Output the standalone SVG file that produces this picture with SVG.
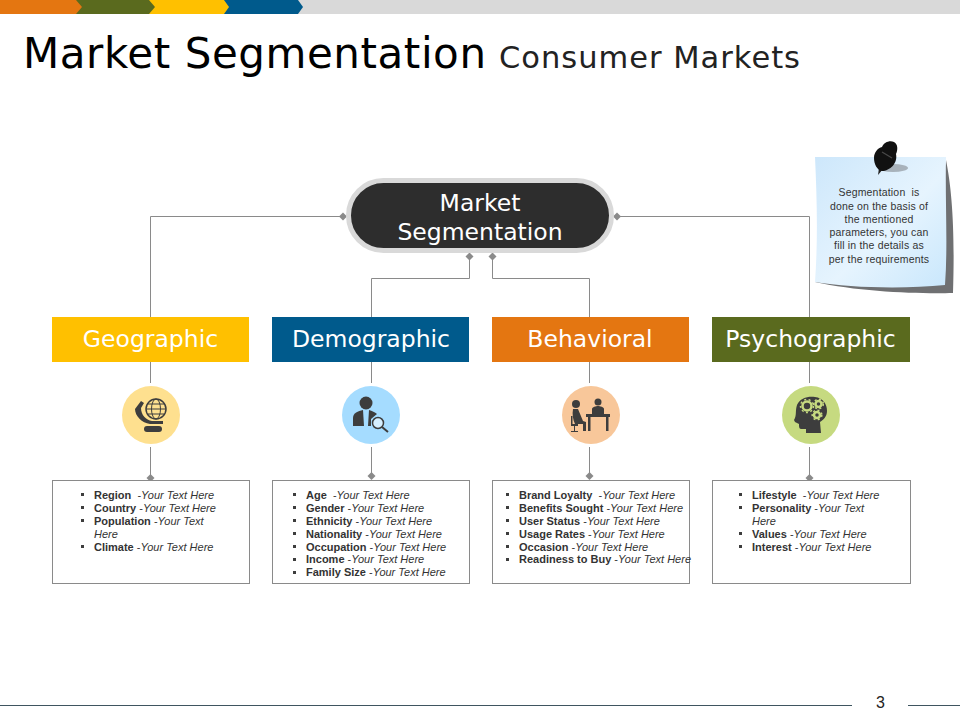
<svg xmlns="http://www.w3.org/2000/svg" width="960" height="720" viewBox="0 0 960 720">
<defs>
<style>
.h{font-family:"DejaVu Sans",Verdana,sans-serif}
.w{fill:#fff;text-anchor:middle}
.c{fill:none;stroke:#8a8a8a;stroke-width:1}
.box{fill:#fff;stroke:#8a8a8a;stroke-width:1}
.l{font-family:"Liberation Sans",Arial,sans-serif;font-size:11px;fill:#333;white-space:pre}
.l tspan.b{font-weight:bold}
.l tspan.i{font-style:italic}
.n{font-family:"Liberation Sans",Arial,sans-serif;font-size:10.500px;letter-spacing:.18px;fill:#333;text-anchor:middle;white-space:pre}
.ic{fill:#3d3d3d}
</style>
<linearGradient id="note" x1="0" y1="0" x2="1" y2="1"><stop offset="0" stop-color="#cde7fb"/><stop offset="0.55" stop-color="#e6f4fe"/><stop offset="1" stop-color="#c9e7fc"/></linearGradient>
<marker id="dm" markerWidth="9" markerHeight="9" refX="4.500" refY="4.500" markerUnits="userSpaceOnUse"><path d="M4.500 0.500L8.500 4.500L4.500 8.500L0.500 4.500Z" fill="#8a8a8a"/></marker>
</defs>
<rect width="960" height="720" fill="#fff"/>
<g id="topbar">
<rect x="0" y="0" width="960" height="14" fill="#d9d9d9"/>
<path d="M222 0H298L303 7L298 14H222Z" fill="#005a8c"/>
<path d="M148 0H224L229 7L224 14H148Z" fill="#ffc000"/>
<path d="M75 0H149L155 7L149 14H75Z" fill="#5a6a1e"/>
<path d="M0 0H76L82 7L76 14H0Z" fill="#e47611"/>
</g>
<g id="title">
<text class="h" x="23" y="68" font-size="42" fill="#000" textLength="463" lengthAdjust="spacing">Market Segmentation</text>
<text class="h" x="499" y="68" font-size="30.500" fill="#222" textLength="301" lengthAdjust="spacing">Consumer Markets</text>
</g>
<g id="connectors">
<path class="c" d="M343 216.500H150.500V317" marker-start="url(#dm)"/>
<path class="c" d="M617 216.500H809.500V317" marker-start="url(#dm)"/>
<path class="c" d="M469.500 256.500V278.500H371.500V317" marker-start="url(#dm)"/>
<path class="c" d="M492.500 256.500V278.500H589.500V317" marker-start="url(#dm)"/>
<path class="c" d="M150.500 362V383"/><path class="c" d="M371.500 362V383"/><path class="c" d="M589.500 362V383"/><path class="c" d="M809.500 362V383"/>
<path class="c" d="M150.500 447V478" marker-end="url(#dm)"/>
<path class="c" d="M371.500 447V476" marker-end="url(#dm)"/>
<path class="c" d="M589.500 447V476" marker-end="url(#dm)"/>
<path class="c" d="M809.500 447V478" marker-end="url(#dm)"/>
</g>
<g id="root">
<rect x="348.500" y="180.500" width="263" height="70" rx="35" fill="#2d2d2d" stroke="#d9d9d9" stroke-width="5"/>
<text class="h w" x="480" y="211" font-size="23.500">Market</text>
<text class="h w" x="480" y="240" font-size="23.500">Segmentation</text>
</g>
<g id="note-card">
<path d="M815 282C860 292 920 294 953 293C955 230 952 190 946 160L930 270Z" fill="#6f7072"/>
<path d="M815 157H946C945 200 948 245 945 285C905 289 850 288 815 282C818 240 817 200 815 157Z" fill="url(#note)"/>
<ellipse cx="893" cy="168" rx="15" ry="4" fill="#9aa3aa" opacity="0.8"/>
<path d="M879 168L878 175L883 169Z" fill="#222"/>
<path d="M874 158C874 152 878 148 882 147C884 142 890 140 894 142C898 144 898 150 896 154C898 163 890 171 882 171C877 170 874 164 874 158Z" fill="#111"/>
<path d="M882 152L892 158" stroke="#4a4a4a" stroke-width="1.200"/>
<text class="n" x="879" y="196">Segmentation  is</text>
<text class="n" x="879" y="210">done on the basis of</text>
<text class="n" x="879" y="223">the mentioned</text>
<text class="n" x="879" y="236">parameters, you can</text>
<text class="n" x="879" y="249">fill in the details as</text>
<text class="n" x="879" y="263">per the requirements</text>
</g>
<g id="geographic">
<rect x="52" y="317" width="197" height="45" fill="#ffc000"/>
<text class="h w" x="150.500" y="346.500" font-size="23.500">Geographic</text>
<circle cx="151" cy="415" r="29" fill="#fee08f"/>
<g class="ic">
<circle cx="156" cy="409" r="10" fill="none" stroke="#3d3d3d" stroke-width="1.500"/>
<ellipse cx="156" cy="409" rx="4.500" ry="10" fill="none" stroke="#3d3d3d" stroke-width="1"/>
<path d="M146 409H166M147.500 404H164.500M147.500 414H164.500" stroke="#3d3d3d" stroke-width="1"/>
<path d="M141 401L144 403L141 408C141 415 146 420 152 421L163 421V424H150C142 423 135 416 135 409Z"/>
<rect x="144" y="426" width="18" height="6" rx="3"/>
</g>
</g>
<g id="demographic">
<rect x="272" y="317" width="197" height="45" fill="#005a8c"/>
<text class="h w" x="371" y="346.500" font-size="23.500">Demographic</text>
<circle cx="371" cy="415" r="29" fill="#a5dcff"/>
<g class="ic">
<circle cx="366" cy="403" r="6.500"/>
<path d="M353 426V418C353 413 358 411 363 410L364 426Z"/>
<path d="M369 410C372 411 375 412 377 414L371 419V426H368Z"/>
<circle cx="378" cy="423" r="5.500" fill="#d5efff" stroke="#3d3d3d" stroke-width="1.500"/>
<path d="M382 427L388 432" stroke="#3d3d3d" stroke-width="2"/>
</g>
</g>
<g id="behavioral">
<rect x="492" y="317" width="197" height="45" fill="#e47611"/>
<text class="h w" x="590" y="346.500" font-size="23.500">Behavioral</text>
<circle cx="591" cy="415" r="29" fill="#f8c79a"/>
<g class="ic">
<circle cx="576" cy="404" r="4"/>
<path d="M573 409H578L583 421L586 422V431H583V424H575C573 420 572 414 573 409Z"/>
<path d="M571 416H572.500V424H578V426H575V431H578V432H571V431H574V426H571Z"/>
<circle cx="598" cy="402" r="3.500"/>
<path d="M592 414V409C592 407 596 406 598 406C600 406 604 407 604 409V414Z"/>
<rect x="586" y="414" width="24" height="3"/>
<rect x="588" y="417" width="2.500" height="14"/><rect x="606" y="417" width="2.500" height="14"/>
</g>
</g>
<g id="psychographic">
<rect x="712" y="317" width="198" height="45" fill="#5a6a1e"/>
<text class="h w" x="810.500" y="346.500" font-size="23.500">Psychographic</text>
<circle cx="811" cy="415" r="29" fill="#c6da80"/>
<g class="ic">
<path d="M794 420C797 415 795 411 797 405C800 398 808 396 815 397C823 398 827 404 827 411C827 417 823 420 820 422L821 433H806V429H801C799 429 799 426 799 424L795 422Z"/>
<g fill="none" stroke="#c6da80" stroke-width="2.500">
<circle cx="807" cy="406" r="4.500"/><circle cx="818.500" cy="404" r="3"/><circle cx="817" cy="415" r="3"/>
</g>
<g fill="none" stroke="#c6da80" stroke-width="1.500" stroke-dasharray="2 2.500">
<circle cx="807" cy="406" r="6.500"/><circle cx="818.500" cy="404" r="4.800"/><circle cx="817" cy="415" r="4.800"/>
</g>
</g>
</g>
<g id="list-geographic">
<rect class="box" x="52.500" y="480.500" width="197" height="103"/>
<path class="ic" d="M81 493h3v3h-3zM81 506h3v3h-3zM81 519h3v3h-3zM81 545h3v3h-3z"/>
<text class="l" x="94" y="499"><tspan class="b">Region </tspan> -<tspan class="i">Your Text Here</tspan></text>
<text class="l" x="94" y="512"><tspan class="b">Country </tspan>-<tspan class="i">Your Text Here</tspan></text>
<text class="l" x="94" y="525"><tspan class="b">Population </tspan>-<tspan class="i">Your Text</tspan></text>
<text class="l" x="94" y="538"><tspan class="i">Here</tspan></text>
<text class="l" x="94" y="551"><tspan class="b">Climate </tspan>-<tspan class="i">Your Text Here</tspan></text>
</g>
<g id="list-demographic">
<rect class="box" x="272.500" y="480.500" width="197" height="103"/>
<path class="ic" d="M293 493h3v3h-3zM293 506h3v3h-3zM293 519h3v3h-3zM293 532h3v3h-3zM293 545h3v3h-3zM293 558h3v3h-3zM293 571h3v3h-3z"/>
<text class="l" x="306" y="499"><tspan class="b">Age </tspan> -<tspan class="i">Your Text Here</tspan></text>
<text class="l" x="306" y="512"><tspan class="b">Gender </tspan>-<tspan class="i">Your Text Here</tspan></text>
<text class="l" x="306" y="525"><tspan class="b">Ethnicity </tspan>-<tspan class="i">Your Text Here</tspan></text>
<text class="l" x="306" y="538"><tspan class="b">Nationality </tspan>-<tspan class="i">Your Text Here</tspan></text>
<text class="l" x="306" y="551"><tspan class="b">Occupation </tspan>-<tspan class="i">Your Text Here</tspan></text>
<text class="l" x="306" y="563"><tspan class="b">Income </tspan>-<tspan class="i">Your Text Here</tspan></text>
<text class="l" x="306" y="576"><tspan class="b">Family Size </tspan>-<tspan class="i">Your Text Here</tspan></text>
</g>
<g id="list-behavioral">
<rect class="box" x="492.500" y="480.500" width="197" height="103"/>
<path class="ic" d="M506 493h3v3h-3zM506 506h3v3h-3zM506 519h3v3h-3zM506 532h3v3h-3zM506 545h3v3h-3zM506 558h3v3h-3z"/>
<text class="l" x="519" y="499"><tspan class="b">Brand Loyalty </tspan> -<tspan class="i">Your Text Here</tspan></text>
<text class="l" x="519" y="512"><tspan class="b">Benefits Sought </tspan>-<tspan class="i">Your Text Here</tspan></text>
<text class="l" x="519" y="525"><tspan class="b">User Status </tspan>-<tspan class="i">Your Text Here</tspan></text>
<text class="l" x="519" y="538"><tspan class="b">Usage Rates </tspan>-<tspan class="i">Your Text Here</tspan></text>
<text class="l" x="519" y="551"><tspan class="b">Occasion </tspan>-<tspan class="i">Your Text Here</tspan></text>
<text class="l" x="519" y="563"><tspan class="b">Readiness to Buy </tspan>-<tspan class="i">Your Text Here</tspan></text>
</g>
<g id="list-psychographic">
<rect class="box" x="712.500" y="480.500" width="198" height="103"/>
<path class="ic" d="M739 493h3v3h-3zM739 506h3v3h-3zM739 532h3v3h-3zM739 545h3v3h-3z"/>
<text class="l" x="752" y="499"><tspan class="b">Lifestyle </tspan> -<tspan class="i">Your Text Here</tspan></text>
<text class="l" x="752" y="512"><tspan class="b">Personality </tspan>-<tspan class="i">Your Text</tspan></text>
<text class="l" x="752" y="525"><tspan class="i">Here</tspan></text>
<text class="l" x="752" y="538"><tspan class="b">Values </tspan>-<tspan class="i">Your Text Here</tspan></text>
<text class="l" x="752" y="551"><tspan class="b">Interest </tspan>-<tspan class="i">Your Text Here</tspan></text>
</g>
<g id="footer">
<path d="M0 705.500H852M908 705.500H960" stroke="#3f5560" stroke-width="1" fill="none"/>
<text x="880.500" y="708" font-family="Liberation Sans, Arial, sans-serif" font-size="16" fill="#222" text-anchor="middle">3</text>
</g>
</svg>
